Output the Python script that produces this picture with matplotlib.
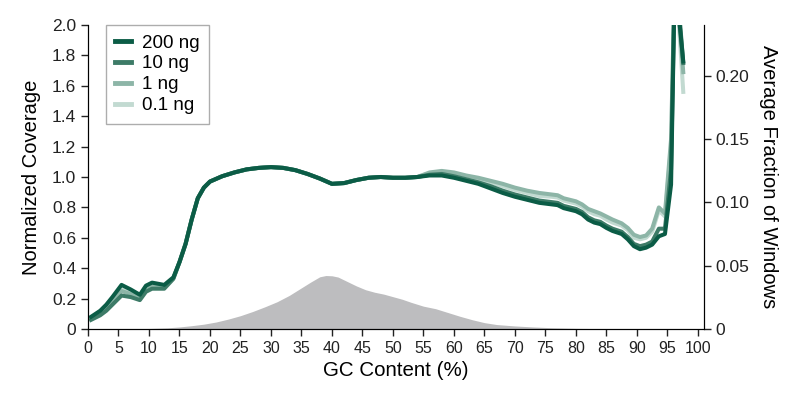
import matplotlib
matplotlib.use('Agg')
import matplotlib.pyplot as plt
import numpy as np

plt.rcParams['font.family'] = ['Liberation Sans', 'DejaVu Sans']

# GC content positions (%)
gc_low = [0.5, 2, 3, 4, 5.5, 7, 8.5, 9.5, 10.5, 12.5, 14]
gc_mid = [15, 16, 17, 18, 19, 20, 22, 24, 26, 28, 30, 32, 34, 36, 38, 40,
          42, 44, 46, 48, 50, 52, 54]
gc_high = [56, 58, 60, 62, 64, 66, 68, 70, 72, 74, 76, 77, 78, 79, 80, 81,
           82, 83, 84, 85, 86, 87.5, 88.5, 89.5, 90.5, 91.5, 92.5, 93.6,
           94.6, 95.6, 96.3, 96.9, 97.6]

# normalized coverage, low GC part
low_200 = [0.08, 0.12, 0.16, 0.21, 0.29, 0.26, 0.225, 0.285, 0.305, 0.29, 0.34]
low_10 = [0.06, 0.09, 0.12, 0.16, 0.22, 0.21, 0.19, 0.245, 0.265, 0.265, 0.33]
low_1 = [0.07, 0.10, 0.135, 0.18, 0.25, 0.23, 0.205, 0.26, 0.28, 0.275, 0.335]
low_01 = [0.075, 0.11, 0.145, 0.19, 0.265, 0.24, 0.215, 0.27, 0.29, 0.28, 0.335]

# middle part (all inputs overlap)
mid_all = [0.44, 0.56, 0.72, 0.86, 0.93, 0.97, 1.005, 1.03, 1.05, 1.06, 1.065,
           1.06, 1.045, 1.02, 0.99, 0.955, 0.96, 0.98, 0.995, 1.0, 0.995,
           0.995, 1.0]

# high GC part
high_200 = [1.01, 1.01, 0.995, 0.975, 0.955, 0.925, 0.895, 0.87, 0.85, 0.83,
            0.82, 0.815, 0.795, 0.785, 0.775, 0.755, 0.72, 0.70, 0.69, 0.665,
            0.645, 0.625, 0.59, 0.545, 0.525, 0.535, 0.555, 0.61, 0.625, 0.95,
            2.5, 2.05, 1.76]
high_10 = [1.015, 1.02, 1.005, 0.985, 0.965, 0.94, 0.91, 0.885, 0.865, 0.845,
           0.835, 0.83, 0.81, 0.80, 0.79, 0.77, 0.735, 0.715, 0.705, 0.68,
           0.66, 0.64, 0.605, 0.56, 0.545, 0.555, 0.575, 0.66, 0.66, 1.05,
           2.5, 2.1, 1.75]
high_1 = [1.03, 1.04, 1.03, 1.01, 0.995, 0.975, 0.955, 0.93, 0.91, 0.895,
          0.885, 0.88, 0.86, 0.85, 0.84, 0.82, 0.79, 0.775, 0.76, 0.74,
          0.72, 0.695, 0.665, 0.62, 0.605, 0.615, 0.66, 0.80, 0.76, 1.25,
          2.5, 2.05, 1.69]
high_01 = [1.025, 1.035, 1.02, 1.0, 0.985, 0.965, 0.94, 0.915, 0.895, 0.875,
           0.87, 0.865, 0.845, 0.835, 0.825, 0.805, 0.775, 0.755, 0.745, 0.72,
           0.70, 0.68, 0.65, 0.60, 0.59, 0.60, 0.64, 0.78, 0.74, 1.2,
           2.5, 2.0, 1.56]

# fraction of windows per GC bin (grey area)
gc_win = [0, 10, 13, 15, 17, 19, 21, 23, 25, 27, 29, 31, 33, 35, 36.5, 38,
          39, 40, 41, 42.5, 44, 45.5, 47, 48.5, 50, 51.5, 53, 55, 57, 59, 61,
          63, 65, 67, 70, 73, 76, 80, 85, 90, 98]
frac_win = [0, 0.0004, 0.0009, 0.0016, 0.0026, 0.0038, 0.0055, 0.0078, 0.0105,
            0.0138, 0.0175, 0.0215, 0.0265, 0.0325, 0.037, 0.0412, 0.0422,
            0.042, 0.041, 0.0375, 0.034, 0.031, 0.029, 0.0275, 0.0255, 0.0235,
            0.021, 0.018, 0.016, 0.013, 0.01, 0.0073, 0.005, 0.0035, 0.0024,
            0.0016, 0.001, 0.0005, 0.0002, 0.0001, 0]

labels = ['200 ng', '10 ng', '1 ng', '0.1 ng']
colors = ['#0b5c46', '#3d7b67', '#8db5a7', '#c2dad1']

gc = gc_low + gc_mid + gc_high
series = [low_200 + mid_all + high_200,
          low_10 + mid_all + high_10,
          low_1 + mid_all + high_1,
          low_01 + mid_all + high_01]

fig = plt.figure(figsize=(8, 4.01), dpi=100)
ax = fig.add_axes([0.11, 0.1796, 0.77, 0.758])
ax2 = ax.twinx()

ax2.fill_between(gc_win, frac_win, color='#bdbdbf', linewidth=0)
ax2.set_ylim(0, 0.24)
ax2.set_yticks([0, 0.05, 0.10, 0.15, 0.20])
ax2.set_yticklabels(['0', '0.05', '0.10', '0.15', '0.20'])
ax2.set_ylabel('Average Fraction of Windows', fontsize=14.5, rotation=-90,
               labelpad=20)

ax.set_zorder(ax2.get_zorder() + 1)
ax.patch.set_visible(False)

# draw the lightest first so 200 ng ends on top
for i in [3, 2, 1, 0]:
    ax.plot(gc, series[i], color=colors[i], lw=2.9, label=labels[i],
            solid_joinstyle='round')

ax.set_xlim(0, 101)
ax.set_ylim(0, 2.0)
ax.set_xticks(np.arange(0, 101, 5))
ax.set_yticks(np.arange(0, 2.01, 0.2))
ax.set_yticklabels(['0'] + ['%.1f' % v for v in np.arange(0.2, 2.01, 0.2)])
ax.set_xlabel('GC Content (%)', fontsize=14.8)
ax.set_ylabel('Normalized Coverage', fontsize=14.5, labelpad=8)

for a in (ax, ax2):
    a.spines['top'].set_visible(False)
    a.tick_params(direction='out', length=5, width=1, colors='#222222')
ax.tick_params(axis='x', labelsize=11.5)
ax.tick_params(axis='y', labelsize=12.5)
ax2.tick_params(axis='y', labelsize=12.5)

handles, labs = ax.get_legend_handles_labels()
order = [3, 2, 1, 0]
leg = ax.legend([handles[k] for k in order], [labs[k] for k in order],
                loc='upper left', bbox_to_anchor=(0.029, 1.0), borderaxespad=0,
                fontsize=13.5, fancybox=False, edgecolor='#999999',
                handlelength=0.85, handletextpad=0.6, labelspacing=0.2,
                borderpad=0.5)
leg.get_frame().set_linewidth(1)
for h in leg.get_lines():
    h.set_linewidth(3.5)

fig.savefig('out.png', dpi=100)
